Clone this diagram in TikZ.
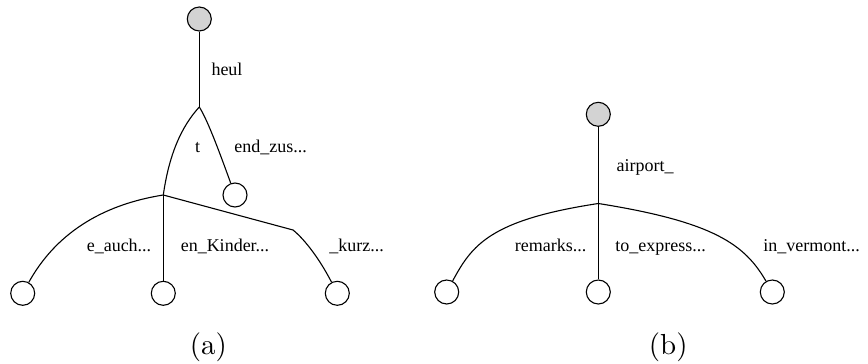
\documentclass[tikz,border=0pt]{standalone}
\usepackage{fontspec}
\setmainfont{Latin Modern Roman}
\newfontfamily\labelfont{Liberation Serif}
\newfontfamily\capfont{lmroman10-regular}[Extension=.otf]
\definecolor{rootfill}{RGB}{211,211,211}
\begin{document}
\begin{tikzpicture}[x=1pt,y=-1pt,
  treenode/.style={circle,draw,line width=1.1pt,minimum size=24pt,inner sep=0pt},
  rootnode/.style={treenode,fill=rootfill},
  edge/.style={line width=1.1pt},
  edgelabel/.style={anchor=base,inner sep=0pt,font=\labelfont\fontsize{18}{20}\selectfont},
  caption/.style={anchor=base,inner sep=0pt,font=\capfont\fontsize{29}{34}\selectfont}]
\useasboundingbox (0,0) rectangle (868,364);

% ---- tree (a) ----
\node[rootnode] (ra) at (199.3,19) {};
\coordinate (a1) at (199.3,107);
\coordinate (a2) at (163.3,195);
\node[treenode] (az) at (235,195) {};
\node[treenode] (al) at (22.7,293.3) {};
\node[treenode] (am) at (163.3,293.3) {};
\node[treenode] (ar) at (337.3,293.3) {};

\draw[edge] (ra) -- (a1);
\draw[edge] (a1) .. controls (181,127) and (169,155) .. (a2);
\draw[edge] (a1) .. controls (207,119) and (218,148) .. (az);
\draw[edge] (a2) .. controls (100,205) and (55,235) .. (al);
\draw[edge] (a2) -- (am);
\draw[edge] (a2) -- (293,230) .. controls (303,238) and (318,256) .. (ar);

\node[edgelabel] (lheul) at (227,75) {heul};
\node[edgelabel] (lt) at (197.7,152) {t};
\node[edgelabel] (lend) at (270.7,152) {end\_zus...};
\node[edgelabel] (lauch) at (119,251.5) {e\_auch...};
\node[edgelabel] (lkind) at (225,251.5) {en\_Kinder...};
\node[edgelabel] (lkurz) at (356.7,251.5) {\_kurz...};
\node[caption] (capa) at (208.3,354) {(a)};

% ---- tree (b) ----
\node[rootnode] (rb) at (598.3,114.3) {};
\coordinate (b1) at (598.3,203.5);
\node[treenode] (bl) at (446.7,292) {};
\node[treenode] (bm) at (598.3,292) {};
\node[treenode] (br) at (772.3,292) {};

\draw[edge] (rb) -- (b1);
\draw[edge] (b1) .. controls (490,220) and (472,245) .. (bl);
\draw[edge] (b1) -- (bm);
\draw[edge] (b1) .. controls (715,222) and (745,245) .. (br);

\node[edgelabel] (lair) at (645,171) {airport\_};
\node[edgelabel] (lrem) at (550.7,251.5) {remarks...};
\node[edgelabel] (lexp) at (660.7,251.5) {to\_express...};
\node[edgelabel] (lver) at (811.7,251.5) {in\_vermont...};
\node[caption] (capb) at (668.3,354) {(b)};
\end{tikzpicture}
\end{document}
